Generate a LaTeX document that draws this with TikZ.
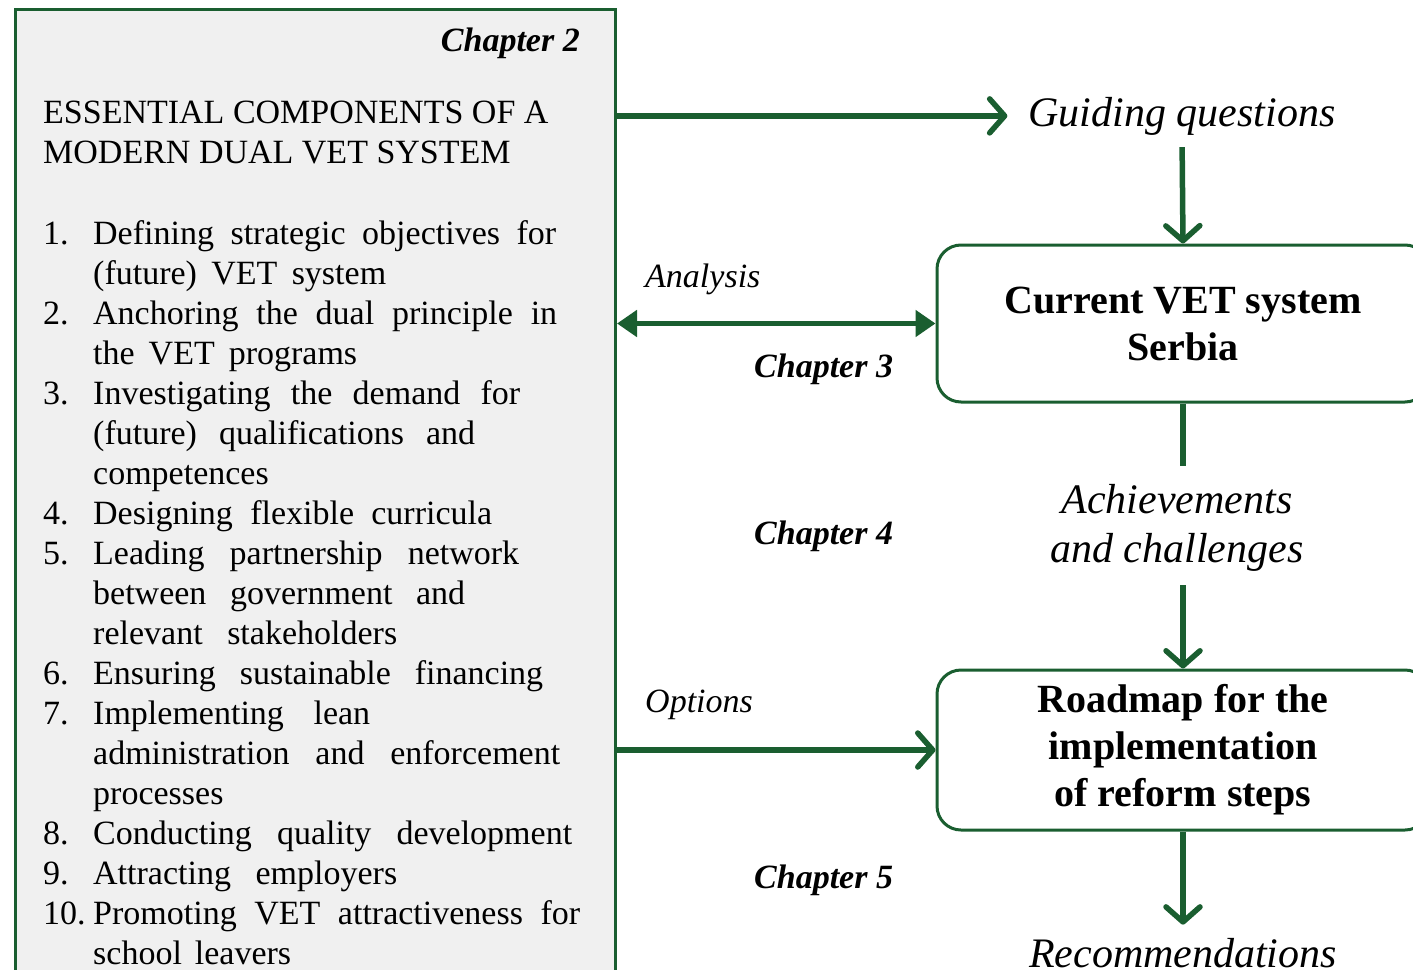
\documentclass[tikz,border=0pt]{standalone}
\usepackage{fontspec}
\setmainfont{Liberation Serif}
\usetikzlibrary{arrows.meta}
\definecolor{vetgreen}{RGB}{26,94,48}
\definecolor{panelgrey}{RGB}{240,240,240}
% stretch the inter-word spaces of one line to a given width (in pt)
\newcommand\spreadto[2]{\makebox[#1pt][s]{#2}}
\begin{document}
\begin{tikzpicture}[x=1pt,y=-1pt,
  frame/.style={draw=vetgreen, line width=3pt, fill=panelgrey, inner sep=0pt},
  roundbox/.style={draw=vetgreen, line width=3pt, rounded corners=24pt,
    minimum width=492pt, align=center, fill=white,
    font=\fontsize{40}{47}\selectfont\bfseries},
  chap/.style={inner sep=0pt, font=\fontsize{34}{40}\selectfont\bfseries\itshape},
  smallital/.style={inner sep=0pt, font=\fontsize{34}{40}\selectfont\itshape},
  bigital/.style={inner sep=0pt, align=center, font=\fontsize{42}{49}\selectfont\itshape},
  bodytext/.style={inner sep=0pt, align=left, font=\fontsize{34}{40}\selectfont},
  flow/.style={draw=vetgreen, line width=5.5pt,
    -{Straight Barb[length=15pt, width=34pt, line cap=round, line join=round]}},
  plainlink/.style={draw=vetgreen, line width=5.5pt},
  twoway/.style={draw=vetgreen, line width=5.5pt,
    {Triangle[length=20pt, width=26pt]}-{Triangle[length=20pt, width=26pt]}}]
\useasboundingbox (0,0) rectangle (1413,969);
\clip (0,0) rectangle (1413,969);
\fill[white] (0,0) rectangle (1413,969);

% left panel: components of a dual VET system
\node[frame, minimum width=600pt, minimum height=1000pt, anchor=north west] (comp) at (14,8) {};
\node[chap, anchor=base east] (ch2) at (580,51) {Chapter 2};
\node[bodytext, anchor=base west] (head) at (43,163)
  {ESSENTIAL COMPONENTS OF A\\MODERN DUAL VET SYSTEM};
\node[bodytext, anchor=base west] (items) at (43,244) {%
  \begin{tabular}[t]{@{}p{50pt}@{}l@{}}
  1. & \spreadto{463}{Defining strategic objectives for}\\
     & \spreadto{293}{(future) VET system}\\
  2. & \spreadto{464}{Anchoring the dual principle in}\\
     & \spreadto{264}{the VET programs}\\
  3. & \spreadto{427}{Investigating the demand for}\\
     & \spreadto{382}{(future) qualifications and}\\
     & competences\\
  4. & \spreadto{399}{Designing flexible curricula}\\
  5. & \spreadto{426}{Leading partnership network}\\
     & \spreadto{372}{between government and}\\
     & \spreadto{304}{relevant stakeholders}\\
  6. & \spreadto{450}{Ensuring sustainable financing}\\
  7. & \spreadto{277}{Implementing lean}\\
     & \spreadto{467}{administration and enforcement}\\
     & processes\\
  8. & \spreadto{479}{Conducting quality development}\\
  9. & \spreadto{304}{Attracting employers}\\
  10.& \spreadto{487}{Promoting VET attractiveness for}\\
     & \spreadto{198}{school leavers}
  \end{tabular}};

% right column: flow of the study
\node[bigital, anchor=base] (gq) at (1182,126) {Guiding questions};
\node[roundbox, minimum height=157pt] (cur) at (1183,323.5) {Current VET system\\Serbia};
\node[bigital, anchor=base] (ach) at (1177,562) {Achievements\\and challenges};
\node[roundbox, minimum height=160pt] (road) at (1183,750)
  {Roadmap for the\\implementation\\of reform steps};
\node[bigital, anchor=base] (rec) at (1183,967) {Recommendations};

% labels along the connectors
\node[smallital, anchor=base west] (ana) at (645,287) {Analysis};
\node[chap, anchor=base west] (ch3) at (754,377) {Chapter 3};
\node[chap, anchor=base west] (ch4) at (754,544) {Chapter 4};
\node[smallital, anchor=base west] (opt) at (645,712) {Options};
\node[chap, anchor=base west] (ch5) at (754,888) {Chapter 5};

% connectors
\draw[flow, shorten >=21pt] (comp.east |- gq.west) -- (gq.west);
\draw[flow, shorten <=12pt] (gq.south) -- (cur.north);
\draw[twoway] (comp.east |- cur.west) -- (cur.west);
\draw[plainlink, shorten >=18pt] (cur.south) -- (cur.south |- ach.north);
\draw[flow, shorten <=14pt] (cur.south |- ach.south) -- (road.north);
\draw[flow] (comp.east |- road.west) -- (road.west);
\draw[flow, shorten >=13pt] (road.south) -- (rec.north -| road.south);
\end{tikzpicture}
\end{document}
